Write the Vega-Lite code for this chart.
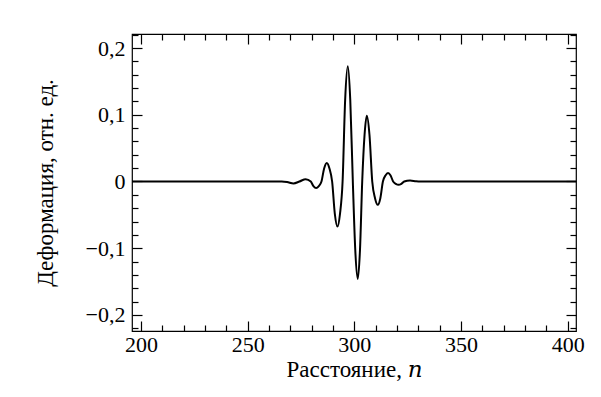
{
  "$schema": "https://vega.github.io/schema/vega-lite/v6.json",
  "width": 444,
  "height": 297,
  "autosize": {"type": "none"},
  "padding": {"left": 132, "top": 34, "right": 25, "bottom": 66},
  "background": "white",
  "config": {
    "view": {"stroke": "black", "strokeWidth": 1.2},
    "axis": {
      "labelFont": "Liberation Serif",
      "titleFont": "Liberation Serif, DejaVu Serif, serif",
      "labelFontSize": 22,
      "titleFontSize": 23,
      "titleFontWeight": "normal",
      "labelColor": "black",
      "titleColor": "black",
      "tickColor": "black",
      "tickWidth": 1.2,
      "domain": false,
      "grid": false
    }
  },
  "data": {
    "values": [
      {"n": 195, "d": 0},
      {"n": 266, "d": 0},
      {"n": 268.5, "d": -0.0008},
      {"n": 271.5, "d": -0.003},
      {"n": 274.3, "d": 0},
      {"n": 277.2, "d": 0.0035},
      {"n": 279.6, "d": 0},
      {"n": 280.85, "d": -0.007},
      {"n": 282.1, "d": -0.0099},
      {"n": 283.35, "d": -0.007},
      {"n": 284.6, "d": 0},
      {"n": 285.85, "d": 0.0195},
      {"n": 287.1, "d": 0.0276},
      {"n": 288.35, "d": 0.0195},
      {"n": 289.6, "d": 0},
      {"n": 290.85, "d": -0.048},
      {"n": 292.1, "d": -0.0675},
      {"n": 293.3, "d": -0.048},
      {"n": 294.5, "d": 0},
      {"n": 295.7, "d": 0.122},
      {"n": 296.95, "d": 0.1725},
      {"n": 298.1, "d": 0.122},
      {"n": 299.3, "d": 0},
      {"n": 300.45, "d": -0.103},
      {"n": 301.6, "d": -0.146},
      {"n": 302.65, "d": -0.103},
      {"n": 303.7, "d": 0},
      {"n": 304.8, "d": 0.07},
      {"n": 305.85, "d": 0.0985},
      {"n": 307.1, "d": 0.07},
      {"n": 308.4, "d": 0},
      {"n": 309.7, "d": -0.025},
      {"n": 311.0, "d": -0.035},
      {"n": 312.2, "d": -0.025},
      {"n": 313.4, "d": 0},
      {"n": 314.6, "d": 0.009},
      {"n": 315.8, "d": 0.0126},
      {"n": 317.0, "d": 0.009},
      {"n": 318.2, "d": 0},
      {"n": 319.45, "d": -0.0035},
      {"n": 320.7, "d": -0.005},
      {"n": 322.05, "d": -0.0035},
      {"n": 323.4, "d": 0},
      {"n": 326.1, "d": 0.0015},
      {"n": 329, "d": 0.0003},
      {"n": 331, "d": 0},
      {"n": 405, "d": 0}
    ]
  },
  "layer": [
    {
      "mark": {"type": "line", "color": "black", "strokeWidth": 2, "interpolate": "monotone", "clip": true},
      "encoding": {
        "x": {
          "field": "n",
          "type": "quantitative",
          "scale": {"domain": [195.8, 403.9], "nice": false, "zero": false},
          "axis": {
            "orient": "bottom",
            "values": [200, 210, 220, 230, 240, 250, 260, 270, 280, 290, 300, 310, 320, 330, 340, 350, 360, 370, 380, 390, 400],
            "tickSize": {"condition": {"test": "datum.value % 50 === 0", "value": -10}, "value": -6},
            "labelExpr": "datum.value % 50 === 0 ? datum.label : ''",
            "labelPadding": 13,
            "title": "Расстояние, 𝑛",
            "titlePadding": 3
          }
        },
        "y": {
          "field": "d",
          "type": "quantitative",
          "scale": {"domain": [-0.224, 0.221], "nice": false, "zero": false},
          "axis": {
            "orient": "left",
            "values": [-0.22, -0.2, -0.18, -0.16, -0.14, -0.12, -0.1, -0.08, -0.06, -0.04, -0.02, 0, 0.02, 0.04, 0.06, 0.08, 0.1, 0.12, 0.14, 0.16, 0.18, 0.2, 0.22],
            "tickSize": {"condition": {"test": "abs(round(datum.value * 100)) % 10 === 0", "value": -10}, "value": -6},
            "labelExpr": "abs(round(datum.value * 100)) % 10 === 0 ? (datum.value === 0 ? '0' : replace(format(datum.value, '.1f'), '.', ',')) : ''",
            "labelPadding": 17,
            "title": "Деформация, отн. ед.",
            "titlePadding": 28
          }
        }
      }
    },
    {
      "mark": {"type": "line", "strokeOpacity": 0, "clip": true},
      "encoding": {
        "x": {
          "field": "n",
          "type": "quantitative",
          "scale": {"domain": [195.8, 403.9], "nice": false, "zero": false},
          "axis": {
            "orient": "top",
            "values": [200, 210, 220, 230, 240, 250, 260, 270, 280, 290, 300, 310, 320, 330, 340, 350, 360, 370, 380, 390, 400],
            "tickSize": {"condition": {"test": "datum.value % 50 === 0", "value": -10}, "value": -6},
            "labels": false,
            "title": null
          }
        },
        "y": {
          "field": "d",
          "type": "quantitative",
          "scale": {"domain": [-0.224, 0.221], "nice": false, "zero": false},
          "axis": {
            "orient": "right",
            "values": [-0.22, -0.2, -0.18, -0.16, -0.14, -0.12, -0.1, -0.08, -0.06, -0.04, -0.02, 0, 0.02, 0.04, 0.06, 0.08, 0.1, 0.12, 0.14, 0.16, 0.18, 0.2, 0.22],
            "tickSize": {"condition": {"test": "abs(round(datum.value * 100)) % 10 === 0", "value": -10}, "value": -6},
            "labels": false,
            "title": null
          }
        }
      }
    }
  ],
  "resolve": {"axis": {"x": "independent", "y": "independent"}}
}
